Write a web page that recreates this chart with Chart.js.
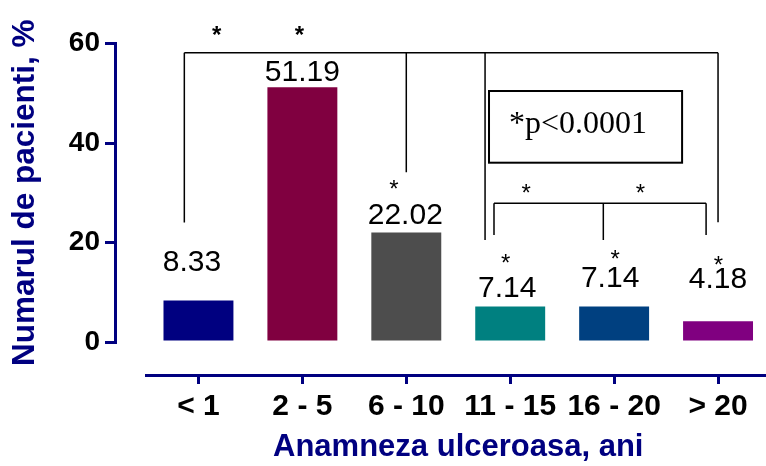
<!DOCTYPE html>
<html lang="ro">
<head>
<meta charset="utf-8">
<title>Anamneza ulceroasa</title>
<script src="https://cdn.jsdelivr.net/npm/chart.js@4.4.1/dist/chart.umd.min.js"></script>
<style>
  html, body { margin: 0; padding: 0; background: #fff; overflow: hidden; }
  #grafic { display: block; }
</style>
</head>
<body>
<canvas id="grafic" width="770" height="466"></canvas>
<script>
// Datele graficului
const categorii = ['< 1', '2 - 5', '6 - 10', '11 - 15', '16 - 20', '> 20'];
const procente = [8.33, 51.19, 22.02, 7.14, 7.14, 4.18];
const culori = ['#000080', '#800040', '#4d4d4d', '#008080', '#004080', '#800080'];
const valoriAxaY = [0, 20, 40, 60];

const ALBASTRU = '#000080';
const SANS = '"Liberation Sans", Arial, sans-serif';
const SERIF = '"Liberation Serif", "Times New Roman", serif';

// Adnotari: parantezele de semnificatie, stelutele, caseta cu p si etichetele valorilor
// (pozitii in unitatile graficului: indexul categoriei si valoarea pe axa Y)
const adnotari = {
    id: 'adnotari',
    paranteze: [
        { sus: 58.15, picioare: [[-0.136, 24.0], [2.0, 34.1], [2.758, 20.5], [5.0, 24.05]] },
        { sus: 27.9, picioare: [[2.844, 21.5], [3.896, 20.5], [4.885, 21.5]] }
    ],
    // [index, valoare, ingrosat]
    stelute: [[0.176, 62.9, true], [0.971, 62.9, true], [1.882, 32.0], [3.153, 31.2], [4.253, 31.2],
              [2.957, 17.1], [4.009, 17.9], [5.003, 16.7]],
    caseta: { x1: 2.796, x2: 4.654, y1: 50.45, y2: 36.04, xText: 3.653, yText: 42.0 },
    // deplasarea etichetelor fata de varful barei (px)
    deplasari: [[-6.5, 37.6], [0, 14.6], [-1, 16.6], [-3, 17.7], [-4, 27.7], [0, 41.7]],

    afterDatasetsDraw(chart) {
        const { ctx, scales: { x, y } } = chart;
        const px = i => x.getPixelForValue(i);
        const py = v => y.getPixelForValue(v);
        ctx.save();

        // parantezele
        ctx.strokeStyle = '#000';
        ctx.lineWidth = 1.5;
        this.paranteze.forEach(p => {
            const picioare = p.picioare;
            ctx.beginPath();
            ctx.moveTo(px(picioare[0][0]), py(p.sus));
            ctx.lineTo(px(picioare[picioare.length - 1][0]), py(p.sus));
            picioare.forEach(([i, jos]) => {
                ctx.moveTo(px(i), py(p.sus));
                ctx.lineTo(px(i), py(jos));
            });
            ctx.stroke();
        });

        // stelutele
        ctx.fillStyle = '#000';
        ctx.textAlign = 'center';
        ctx.textBaseline = 'alphabetic';
        this.stelute.forEach(([i, v, gros]) => {
            ctx.font = (gros ? 'bold ' : '') + '24px ' + SANS;
            ctx.fillText('*', px(i), py(v) + 0.575 * 24);
        });

        // caseta cu p
        const c = this.caseta;
        ctx.lineWidth = 2;
        ctx.strokeRect(px(c.x1), py(c.y1), px(c.x2) - px(c.x1), py(c.y2) - py(c.y1));
        ctx.font = '32px ' + SERIF;
        ctx.fillText('*p<0.0001', px(c.xText), py(c.yText));

        // etichetele valorilor
        ctx.font = '30px ' + SANS;
        ctx.textBaseline = 'middle';
        chart.getDatasetMeta(0).data.forEach((bara, i) => {
            const [dx, dy] = this.deplasari[i];
            ctx.fillText(procente[i].toFixed(2), bara.x + dx, bara.y - dy);
        });

        ctx.restore();
    }
};

new Chart(document.getElementById('grafic'), {
    type: 'bar',
    data: {
        labels: categorii,
        datasets: [{
            data: procente,
            backgroundColor: culori,
            borderWidth: 0,
            categoryPercentage: 1,
            barPercentage: 0.673,
            xAxisID: 'x',
            yAxisID: 'y'
        }]
    },
    options: {
        responsive: false,
        animation: false,
        layout: { padding: { top: 43.5, right: 0, bottom: 0, left: 0 } },
        plugins: {
            legend: { display: false },
            tooltip: { enabled: false }
        },
        scales: {
            x: {
                position: 'bottom',
                weight: 1,
                grid: { drawOnChartArea: false, offset: false, color: ALBASTRU, lineWidth: 3, tickLength: 9 },
                border: { color: ALBASTRU, width: 3 },
                ticks: {
                    color: '#000',
                    font: { family: SANS, size: 30, weight: 'bold' },
                    padding: 5,
                    maxRotation: 0,
                    autoSkip: false
                },
                title: {
                    display: true,
                    text: 'Anamneza ulceroasa, ani',
                    color: ALBASTRU,
                    font: { family: SANS, size: 31, weight: 'bold' },
                    padding: 0
                },
                afterFit: s => { s.height = 91; }
            },
            y: {
                position: 'left',
                weight: 1,
                min: 0,
                max: 60,
                afterBuildTicks: s => { s.ticks = valoriAxaY.map(v => ({ value: v })); },
                grid: { drawOnChartArea: false, color: ALBASTRU, lineWidth: 3, tickLength: 10 },
                border: { color: ALBASTRU, width: 3 },
                ticks: {
                    color: '#000',
                    font: { family: SANS, size: 28, weight: 'bold' },
                    padding: 5
                },
                title: {
                    display: true,
                    text: 'Numarul de pacienti, %',
                    color: ALBASTRU,
                    font: { family: SANS, size: 31.5, weight: 'bold' },
                    padding: { top: 6, bottom: 0 }
                },
                afterFit: s => { s.width = 115; }
            },
            // axe goale, doar pentru spatiul dintre axe si zona barelor
            spatiuY: {
                type: 'linear',
                position: 'left',
                weight: 0,
                grid: { display: false },
                border: { display: false },
                ticks: { display: false },
                afterFit: s => { s.width = 31.5; }
            },
            spatiuX: {
                type: 'linear',
                position: 'bottom',
                weight: 0,
                grid: { display: false },
                border: { display: false },
                ticks: { display: false },
                afterFit: s => { s.height = 33; }
            }
        }
    },
    plugins: [adnotari]
});
</script>
</body>
</html>
